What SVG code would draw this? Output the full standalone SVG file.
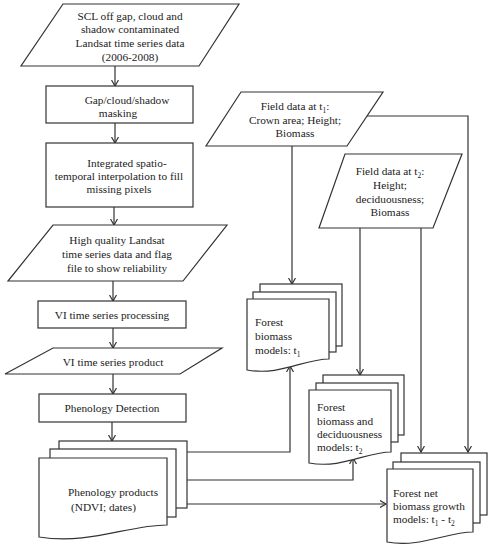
<svg xmlns="http://www.w3.org/2000/svg" width="492" height="550" viewBox="0 0 492 550" font-family="'Liberation Serif', 'Times New Roman', serif">
<defs>
<style>
.s{fill:#fff;stroke:#333;stroke-width:1.2}
.c{fill:none;stroke:#333;stroke-width:1.2}
text{font-family:'Liberation Serif','Times New Roman',serif;font-size:11.3px;fill:#222}
.m{text-anchor:middle}
.sub{font-size:7.5px}
</style>
<marker id="a" markerWidth="8" markerHeight="8" refX="6" refY="4" orient="auto" markerUnits="userSpaceOnUse">
<path d="M0,0.5 L6,4 L0,7.5" fill="none" stroke="#333" stroke-width="1.2"/>
</marker>
</defs>
<rect width="492" height="550" fill="#fff"/>

<g id="connectors" class="c">
<path class="c" d="M115,66 V86" marker-end="url(#a)"/>
<path class="c" d="M115,123 V143" marker-end="url(#a)"/>
<path class="c" d="M114,207 V225" marker-end="url(#a)"/>
<path class="c" d="M113,281 V301" marker-end="url(#a)"/>
<path class="c" d="M113,328 V348" marker-end="url(#a)"/>
<path class="c" d="M113,374 V394" marker-end="url(#a)"/>
<path class="c" d="M112,422 V441" marker-end="url(#a)"/>
<path class="c" d="M292,146 V284" marker-end="url(#a)"/>
<path class="c" d="M367,116 H468 V452" marker-end="url(#a)"/>
<path class="c" d="M360,228 V375" marker-end="url(#a)"/>
<path class="c" d="M421,228 V452" marker-end="url(#a)"/>
<path class="c" d="M187,452 H290 V366" marker-end="url(#a)"/>
<path class="c" d="M187,480 H353 V458" marker-end="url(#a)"/>
<path class="c" d="M187,504 H386" marker-end="url(#a)"/>
</g>

<g id="input-data">
<polygon class="s" points="63,4 239,4 199,66 21,66"/>
<text class="m" x="130" y="20">SCL off gap, cloud and</text>
<text class="m" x="130" y="33">shadow contaminated</text>
<text class="m" x="130" y="47">Landsat time series data</text>
<text class="m" x="130" y="61">(2006-2008)</text>
</g>

<g id="masking">
<rect class="s" x="46" y="86" width="147" height="37"/>
<text class="m" x="127" y="104">Gap/cloud/shadow</text>
<text class="m" x="118" y="117">masking</text>
</g>

<g id="interpolation">
<rect class="s" x="46" y="143" width="147" height="64"/>
<text class="m" x="127" y="167">Integrated spatio-</text>
<text class="m" x="119" y="180">temporal interpolation to fill</text>
<text class="m" x="119" y="193">missing pixels</text>
</g>

<g id="high-quality">
<polygon class="s" points="53,225 227,225 183,281 8,281"/>
<text class="m" x="117" y="244">High quality Landsat</text>
<text class="m" x="117" y="258">time series data and flag</text>
<text class="m" x="117" y="272">file to show reliability</text>
</g>

<g id="vi-processing">
<rect class="s" x="38" y="301" width="148" height="27"/>
<text class="m" x="112" y="319">VI time series processing</text>
</g>

<g id="vi-product">
<polygon class="s" points="53,348 222,348 180,374 5,374"/>
<text class="m" x="113" y="366">VI time series product</text>
</g>

<g id="phenology-detection">
<rect class="s" x="39" y="394" width="147" height="28"/>
<text class="m" x="112" y="412">Phenology Detection</text>
</g>

<g id="phenology-products">
<rect class="s" x="59" y="441" width="128" height="67"/>
<rect class="s" x="50" y="449" width="126" height="68"/>
<path class="s" d="M39,458 H167 V525 C128,525 90,545 39,537 Z"/>
<text x="68" y="496">Phenology products</text>
<text x="71" y="511">(NDVI; dates)</text>
</g>

<g id="field-t1">
<polygon class="s" points="241,92 383,92 347,146 206,146"/>
<text class="m" x="295" y="110">Field data at t<tspan class="sub" dy="3">1</tspan><tspan dy="-3">:</tspan></text>
<text class="m" x="295" y="124">Crown area; Height;</text>
<text class="m" x="295" y="137">Biomass</text>
</g>

<g id="field-t2">
<polygon class="s" points="345,154 462,154 433,228 319,228"/>
<text class="m" x="390" y="175">Field data at t<tspan class="sub" dy="3">2</tspan><tspan dy="-3">:</tspan></text>
<text class="m" x="390" y="189">Height;</text>
<text class="m" x="390" y="203">deciduousness;</text>
<text class="m" x="390" y="216">Biomass</text>
</g>

<g id="biomass-t1">
<rect class="s" x="260" y="284" width="82" height="62"/>
<rect class="s" x="253" y="292" width="83" height="60"/>
<path class="s" d="M247,299 H329 V359 C304,359 280,376 247,370 Z"/>
<text x="255" y="326">Forest</text>
<text x="255" y="340">biomass</text>
<text x="255" y="354">models: t<tspan class="sub" dy="3">1</tspan></text>
</g>

<g id="biomass-t2">
<rect class="s" x="323" y="375" width="81" height="60"/>
<rect class="s" x="316" y="383" width="82" height="59"/>
<path class="s" d="M309,390 H391 V452 C366,452 342,469 309,463 Z"/>
<text x="317" y="411">Forest</text>
<text x="317" y="425">biomass and</text>
<text x="317" y="438">deciduousness</text>
<text x="317" y="451">models: t<tspan class="sub" dy="3">2</tspan></text>
</g>

<g id="net-growth">
<rect class="s" x="401" y="453" width="86" height="62"/>
<rect class="s" x="393" y="462" width="87" height="61"/>
<path class="s" d="M387,469 H473 V532 C447,532 421,548 387,542 Z"/>
<text x="393" y="497">Forest net</text>
<text x="393" y="510">biomass growth</text>
<text x="393" y="523">models: t<tspan class="sub" dy="3">1</tspan><tspan dy="-3"> - t</tspan><tspan class="sub" dy="3">2</tspan></text>
</g>
</svg>
